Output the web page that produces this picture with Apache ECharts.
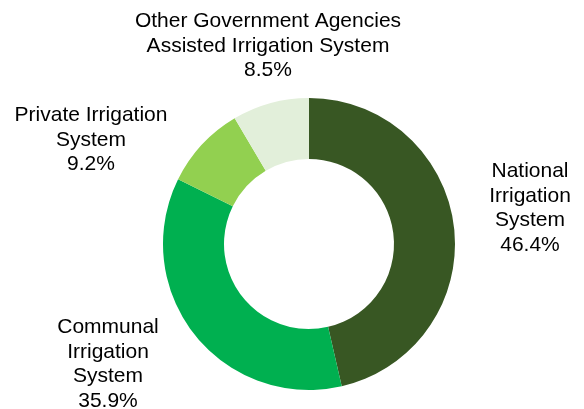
<!DOCTYPE html>
<html><head><meta charset="utf-8">
<script src="https://cdn.jsdelivr.net/npm/echarts@6/dist/echarts.min.js"></script>
<style>html,body{margin:0;padding:0;background:#fff}#c{width:584px;height:409px}</style>
</head><body><div id="c"></div>
<script>
const categories = ["National\nIrrigation\nSystem", "Communal\nIrrigation\nSystem", "Private Irrigation\nSystem", "Other Government Agencies\nAssisted Irrigation System"];
const values = [46.4, 35.9, 9.2, 8.5];
const colors = ["#385723", "#00B050", "#92D050", "#E2EFDA"];
const labelPos = [[530, 208], [108, 364], [91, 140], [268, 46]];

const chart = echarts.init(document.getElementById('c'));
chart.setOption({
  animation: false,
  series: [{
    type: 'pie',
    center: [309, 244],
    radius: [85, 146],
    startAngle: 90,
    clockwise: true,
    data: categories.map((n, i) => ({ name: n, value: values[i], itemStyle: { color: colors[i] } })),
    label: {
      show: true,
      formatter: p => p.name + '\n' + p.value.toFixed(1) + '%',
      fontFamily: 'Liberation Sans, Arial, sans-serif',
      fontSize: 21,
      lineHeight: 24.5,
      color: '#000',
      align: 'center',
      overflow: 'none',
      width: 400
    },
    labelLine: { show: false },
    labelLayout: p => ({ x: labelPos[p.dataIndex][0], y: labelPos[p.dataIndex][1], align: 'center', verticalAlign: 'middle' }),
    emphasis: { disabled: true }
  }]
});
</script></body></html>
